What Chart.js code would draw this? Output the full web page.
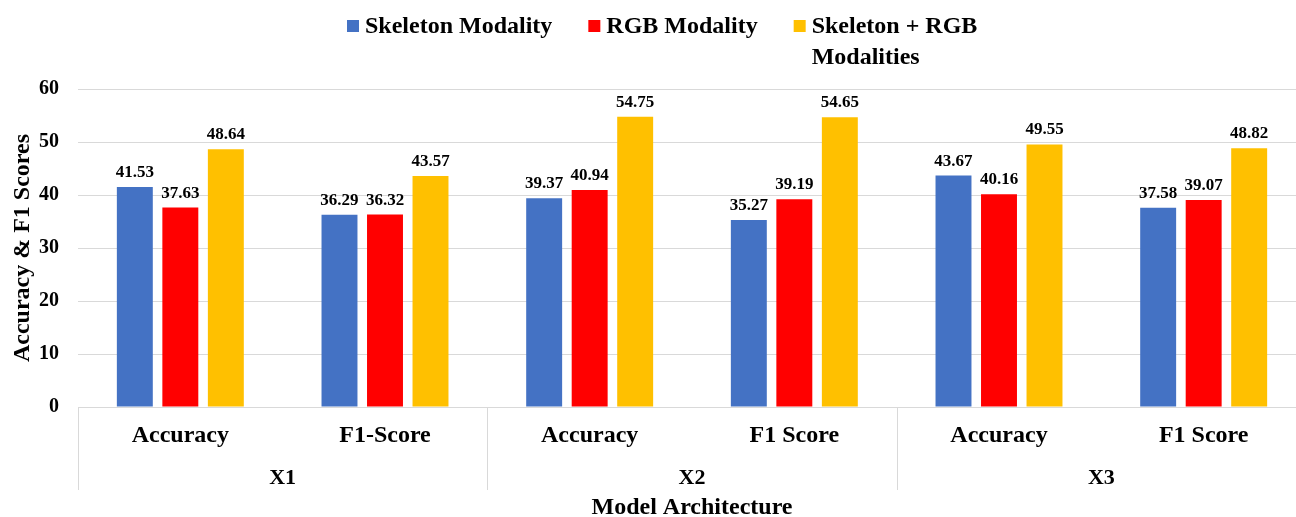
<!DOCTYPE html>
<html>
<head>
<meta charset="utf-8">
<script src="https://cdn.jsdelivr.net/npm/chart.js@4.4.1/dist/chart.umd.min.js"></script>
<style>
  html, body { margin: 0; padding: 0; overflow: hidden; background: #fff; }
  #wrap { position: relative; width: 1310px; height: 522px; }
</style>
</head>
<body>
<div id="wrap"><canvas id="c" width="1310" height="522"></canvas></div>
<script>
// Categories along the x axis and the architecture each pair belongs to
const categories = ['Accuracy', 'F1-Score', 'Accuracy', 'F1 Score', 'Accuracy', 'F1 Score'];
const groups = ['X1', 'X2', 'X3'];

// Scores per modality
const skeleton = [41.53, 36.29, 39.37, 35.27, 43.67, 37.58];
const rgb      = [37.63, 36.32, 40.94, 39.19, 40.16, 39.07];
const combined = [48.64, 43.57, 54.75, 54.65, 49.55, 48.82];

const seriesNames = [['Skeleton Modality'], ['RGB Modality'], ['Skeleton + RGB', 'Modalities']];
const yTicks = [0, 10, 20, 30, 40, 50, 60];

const FONT = "'Liberation Serif', 'Times New Roman', serif";
const COLORS = ['#4472C4', '#FF0000', '#FFC000'];
const GRID = '#d9d9d9';

// Value labels above each bar
const valueLabels = {
  id: 'valueLabels',
  afterDatasetsDraw(chart) {
    const ctx = chart.ctx;
    ctx.save();
    ctx.font = 'bold 17px ' + FONT;
    ctx.fillStyle = '#000';
    ctx.textAlign = 'center';
    ctx.textBaseline = 'alphabetic';
    chart.data.datasets.forEach((ds, i) => {
      chart.getDatasetMeta(i).data.forEach((bar, j) => {
        ctx.fillText(ds.data[j].toFixed(2), bar.x, bar.y - 10);
      });
    });
    ctx.restore();
  }
};

// Second category level: architecture names with separators
const groupAxis = {
  id: 'groupAxis',
  afterDraw(chart) {
    const ctx = chart.ctx;
    const x = chart.scales.x;
    const bottom = chart.chartArea.bottom;
    const step = x.getPixelForValue(1) - x.getPixelForValue(0);
    const per = categories.length / groups.length;
    ctx.save();
    ctx.strokeStyle = GRID;
    ctx.lineWidth = 1;
    for (let g = 0; g <= groups.length; g++) {
      const px = Math.round(x.getPixelForValue(g * per) - step / 2) + 0.5;
      ctx.beginPath();
      ctx.moveTo(px, bottom);
      ctx.lineTo(px, bottom + 83);
      ctx.stroke();
    }
    ctx.font = 'bold 22px ' + FONT;
    ctx.fillStyle = '#000';
    ctx.textAlign = 'center';
    ctx.textBaseline = 'middle';
    groups.forEach((name, g) => {
      const cx = (x.getPixelForValue(g * per) + x.getPixelForValue(g * per + per - 1)) / 2;
      ctx.fillText(name, cx, bottom + 71);
    });
    ctx.restore();
  }
};

// Legend across the top, the last entry wrapping onto two lines
const topLegend = {
  id: 'topLegend',
  afterDraw(chart) {
    const ctx = chart.ctx;
    ctx.save();
    ctx.font = 'bold 24px ' + FONT;
    ctx.textBaseline = 'alphabetic';
    ctx.textAlign = 'left';
    let px = 347;
    const baseline = 33;
    const lineGap = 31;
    chart.data.datasets.forEach((ds, i) => {
      ctx.fillStyle = ds.backgroundColor;
      ctx.fillRect(px, 20, 12, 12);
      ctx.fillStyle = '#000';
      const lines = seriesNames[i];
      let w = 0;
      lines.forEach((t, k) => {
        ctx.fillText(t, px + 18, baseline + k * lineGap);
        w = Math.max(w, ctx.measureText(t).width);
      });
      px += 18 + w + 36;
    });
    ctx.restore();
  }
};

new Chart(document.getElementById('c'), {
  type: 'bar',
  data: {
    labels: categories,
    datasets: [
      { label: seriesNames[0].join(' '), data: skeleton, backgroundColor: COLORS[0] },
      { label: seriesNames[1].join(' '), data: rgb, backgroundColor: COLORS[1] },
      { label: seriesNames[2].join(' '), data: combined, backgroundColor: COLORS[2] }
    ].map(d => Object.assign(d, { categoryPercentage: 0.667, barPercentage: 0.79, borderWidth: 0 }))
  },
  options: {
    responsive: false,
    animation: false,
    layout: { padding: { top: 89, right: 4, left: 0, bottom: 0 } },
    plugins: { legend: { display: false }, tooltip: { enabled: false } },
    scales: {
      x: {
        afterFit(scale) { scale.height = 115; },
        grid: { display: false, drawTicks: false },
        border: { display: false },
        ticks: {
          font: { family: FONT, size: 24, weight: 'bold', lineHeight: 1 },
          color: '#000', padding: 17, maxRotation: 0, autoSkip: false
        },
        title: {
          display: true, text: 'Model Architecture', color: '#000',
          font: { family: FONT, size: 24, weight: 'bold', lineHeight: 1 },
          padding: { top: 48, bottom: 2 }
        }
      },
      y: {
        afterFit(scale) { scale.width = 78; },
        min: yTicks[0],
        max: yTicks[yTicks.length - 1],
        ticks: {
          stepSize: yTicks[1] - yTicks[0],
          font: { family: FONT, size: 20, weight: 'bold' },
          color: '#000', padding: 19
        },
        grid: { color: GRID, drawTicks: false },
        border: { display: false },
        title: {
          display: true, text: 'Accuracy & F1 Scores', color: '#000',
          font: { family: FONT, size: 24, weight: 'bold', lineHeight: 1 },
          padding: { top: 11, bottom: 4 }
        }
      }
    }
  },
  plugins: [valueLabels, groupAxis, topLegend]
});
</script>
</body>
</html>
